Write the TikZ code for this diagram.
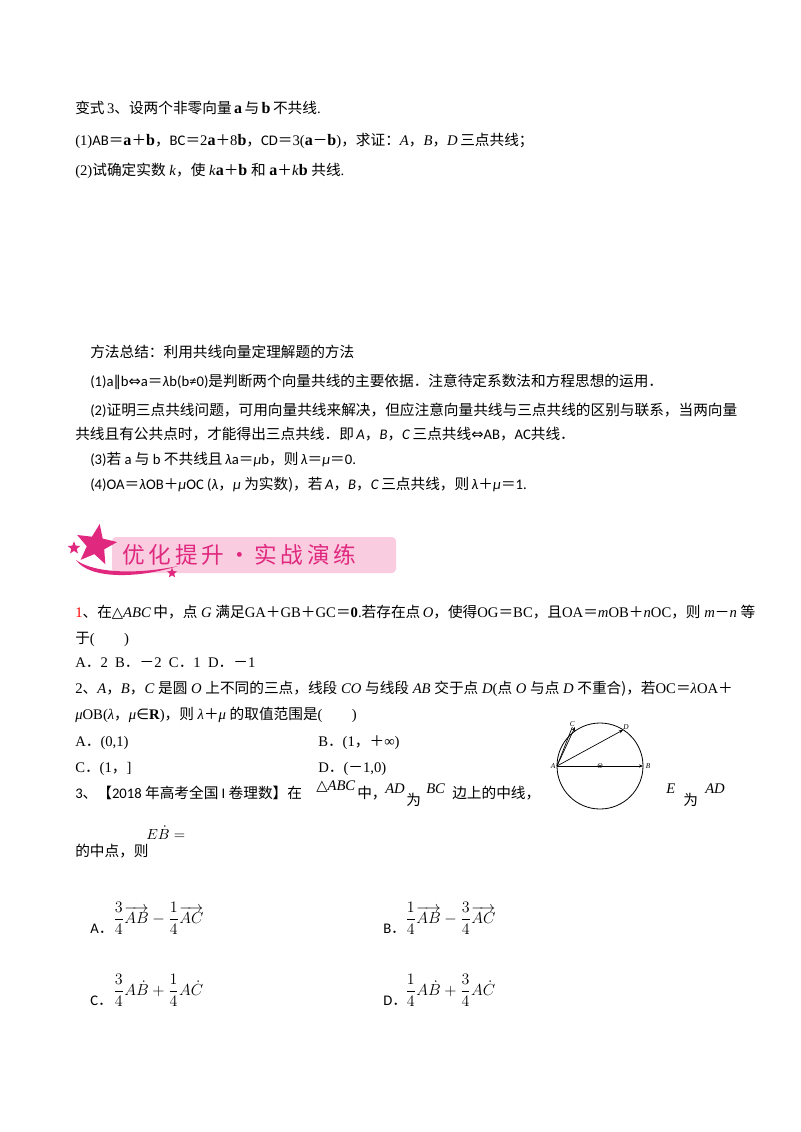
\documentclass[tikz,border=0pt]{standalone}
\usepackage{amsmath}
\usepackage{fontspec}
\setmainfont{Liberation Serif}
\newfontfamily\zh{Noto Sans CJK SC}
\newfontfamily\carl{Carlito}
\newfontfamily\djv{DejaVu Sans}
\usetikzlibrary{shapes.geometric,arrows.meta}
\definecolor{mag}{HTML}{E0287E}
\definecolor{pk}{HTML}{F9CCE0}
\begin{document}
\begin{tikzpicture}[x=0.75pt,y=-0.75pt,
  t/.style={anchor=base west,inner sep=0pt,font=\fontsize{11}{13}\selectfont},
  lab/.style={inner sep=0pt,font=\fontsize{5.5}{6}\selectfont\itshape},
  fr/.style={anchor=west,inner sep=0pt,font=\large},
  vec/.style={-{Stealth[length=3pt,width=2.4pt]},line width=0.5pt}]
\useasboundingbox (0,0) rectangle (800,1132);
\fill[white] (0,0) rectangle (800,1132);
% top
\node[t] (l1) at (75,113) {{\zh 变式}\,3{\zh 、设两个非零向量}\,\textbf{\large a}\,{\zh 与}\,\textbf{\large b}\,{\zh 不共线}.};
\node[t] (l2) at (75,145) {(1){\carl AB}{\zh ＝}\textbf{\large a}{\zh ＋}\textbf{\large b}{\zh ，}{\carl BC}{\zh ＝}2\textbf{\large a}{\zh ＋}8\textbf{\large b}{\zh ，}{\carl CD}{\zh ＝}3(\textbf{\large a}{\zh －}\textbf{\large b}){\zh ，求证：}\textit{A}{\zh ，}\textit{B}{\zh ，}\textit{D}\,{\zh 三点共线；}};
\node[t] (l3) at (75,175) {(2){\zh 试确定实数} \textit{k}{\zh ，使} \textit{k}\textbf{\large a}{\zh ＋}\textbf{\large b} {\zh 和} \textbf{\large a}{\zh ＋}\textit{k}\textbf{\large b} {\zh 共线}.};
% method
\node[t] (m0) at (90,357) {\zh 方法总结：利用共线向量定理解题的方法};
\node[t] (m1) at (90,386) {\carl (1)a{\djv ∥}b{\djv ⇔}a{\zh ＝}\textit{λ}b(b≠0){\zh 是判断两个向量共线的主要依据．注意待定系数法和方程思想的运用．}};
\node[t] (m2) at (90,415) {\carl (2){\zh 证明三点共线问题，可用向量共线来解决，但应注意向量共线与三点共线的区别与联系，当两向量}};
\node[t] (m3) at (75,439) {\carl {\zh 共线且有公共点时，才能得出三点共线．即}\,\textit{A}{\zh ，}\textit{B}{\zh ，}\textit{C}\,{\zh 三点共线}{\djv ⇔}AB{\zh ，}AC{\zh 共线．}};
\node[t] (m4) at (90,464) {\carl (3){\zh 若} a {\zh 与} b {\zh 不共线且}\,\textit{λ}a{\zh ＝}\textit{μ}b{\zh ，则}\,\textit{λ}{\zh ＝}\textit{μ}{\zh ＝}0.};
\node[t] (m5) at (90,489) {\carl (4)OA{\zh ＝}\textit{λ}OB{\zh ＋}\textit{μ}OC (\textit{λ}{\zh ，}\textit{μ} {\zh 为实数)，若}\,\textit{A}{\zh ，}\textit{B}{\zh ，}\textit{C}\,{\zh 三点共线，则}\,\textit{λ}{\zh ＋}\textit{μ}{\zh ＝}1.};
% banner
\fill[pk,rounded corners=3pt] (112,537) rectangle (396,573);
\node[anchor=west,inner sep=0pt,text=mag,font=\zh\fontsize{17}{18}\selectfont] (bn) at (122,555) {优\,化\,提\,升\,·\,实\,战\,演\,练};
\fill[mag] (76,560) .. controls (90,580) and (140,578) .. (178,566) .. controls (140,574) and (95,574) .. (76,560) -- cycle;
\node[star,star points=5,star point ratio=2.3,fill=mag,minimum size=32pt,inner sep=0pt,rotate=-10] (s1) at (96,545) {};
\node[star,star points=5,star point ratio=2.3,fill=mag,minimum size=10pt,inner sep=0pt] (s2) at (74,548) {};
\node[star,star points=5,star point ratio=2.3,fill=mag,minimum size=8pt,inner sep=0pt] (s3) at (172,573) {};
% Q1
\node[t] (q1) at (75,617) {{\color{red}1}{\zh 、在}{\djv △}\textit{ABC}\,{\zh 中，点} \textit{G} {\zh 满足}GA{\zh ＋}GB{\zh ＋}GC{\zh ＝}\textbf{0}.{\zh 若存在点}\,\textit{O}{\zh ，使得}OG{\zh ＝}BC{\zh ，且}OA{\zh ＝}\textit{m}OB{\zh ＋}\textit{n}OC{\zh ，则} \textit{m}{\zh －}\textit{n} {\zh 等}};
\node[t] (q1b) at (75,643) {{\zh 于}(\qquad)};
\node[t] (q1c) at (75,667) {A{\zh ．}2\enspace B{\zh ．－}2\enspace C{\zh ．}1\enspace D{\zh ．－}1};
% Q2
\node[t] (q2) at (75,693) {2{\zh 、}\textit{A}{\zh ，}\textit{B}{\zh ，}\textit{C} {\zh 是圆} \textit{O} {\zh 上不同的三点，线段} \textit{CO} {\zh 与线段} \textit{AB} {\zh 交于点} \textit{D}({\zh 点} \textit{O} {\zh 与点} \textit{D} {\zh 不重合)，若}OC{\zh ＝}\textit{λ}OA{\zh ＋}};
\node[t] (q2b) at (75,719) {\textit{μ}OB(\textit{λ}{\zh ，}\textit{μ}{\djv ∈}\textbf{R}){\zh ，则} \textit{λ}{\zh ＋}\textit{μ} {\zh 的取值范围是}(\qquad)};
\node[t] (q2A) at (75,746) {A{\zh ．}(0,1)};
\node[t] (q2B) at (318,746) {B{\zh ．}(1{\zh ，＋}∞)};
\node[t] (q2C) at (75,772) {C{\zh ．}(1{\zh ，}]};
\node[t] (q2D) at (318,772) {D{\zh ．}({\zh －}1,0)};
% circle
\coordinate (O) at (600,766);
\draw[line width=0.6pt] (O) circle (43);
\coordinate (A) at (557,766); \coordinate (B) at (643,766);
\coordinate (C) at (575,727); \coordinate (D) at (623,730);
\draw[vec] (A) -- (B); \draw[vec] (A) -- (C); \draw[vec] (A) -- (D);
\draw[line width=0.5pt] (A) -- ([xshift=-2]C);
\fill (O) circle (1.2);
\node[lab,anchor=east] (lA) at ([xshift=-1]A) {A};
\node[lab,anchor=west] (lB) at ([xshift=2]B) {B};
\node[lab,anchor=south east] (lC) at (C) {C};
\node[lab,anchor=south west] (lD) at (D) {D};
\node[lab,anchor=north] (lO) at ([yshift=2]O) {O};
% Q3
\node[t] (q3) at (75,798) {\carl 3{\zh 、【}2018 {\zh 年高考全国} I {\zh 卷理数】在}};
\node[t] (q3a) at (316,790) {{\djv △}\textit{ABC}};
\node[t] (q3b) at (357,798) {\zh 中，};
\node[t] (q3c) at (385,793) {\textit{AD}};
\node[t] (q3d) at (406,805) {\zh 为};
\node[t] (q3e) at (426,793) {\textit{BC}};
\node[t] (q3f) at (452,798) {\zh 边上的中线，};
\node[t] (q3g) at (666,793) {\textit{E}};
\node[t] (q3h) at (683,805) {\zh 为};
\node[t] (q3i) at (705,793) {\textit{AD}};
\node[t] (q3j) at (75,856) {\zh 的中点，则};
\node[t] (q3k) at (146,839) {$E\dot{B}=$};
\node[t] (oA) at (90,933) {\carl A{\zh ．}};
\node[t] (oB) at (383,933) {\carl B{\zh ．}};
\node[t] (oC) at (90,1005) {\carl C{\zh ．}};
\node[t] (oD) at (383,1005) {\carl D{\zh ．}};
\node[fr] (fA) at (113,918) {$\dfrac{3}{4}\overrightarrow{AB}-\dfrac{1}{4}\overrightarrow{AC}$};
\node[fr] (fB) at (405,918) {$\dfrac{1}{4}\overrightarrow{AB}-\dfrac{3}{4}\overrightarrow{AC}$};
\node[fr] (fC) at (113,990) {$\dfrac{3}{4}A\dot{B}+\dfrac{1}{4}A\dot{C}$};
\node[fr] (fD) at (405,990) {$\dfrac{1}{4}A\dot{B}+\dfrac{3}{4}A\dot{C}$};
\end{tikzpicture}
\end{document}
